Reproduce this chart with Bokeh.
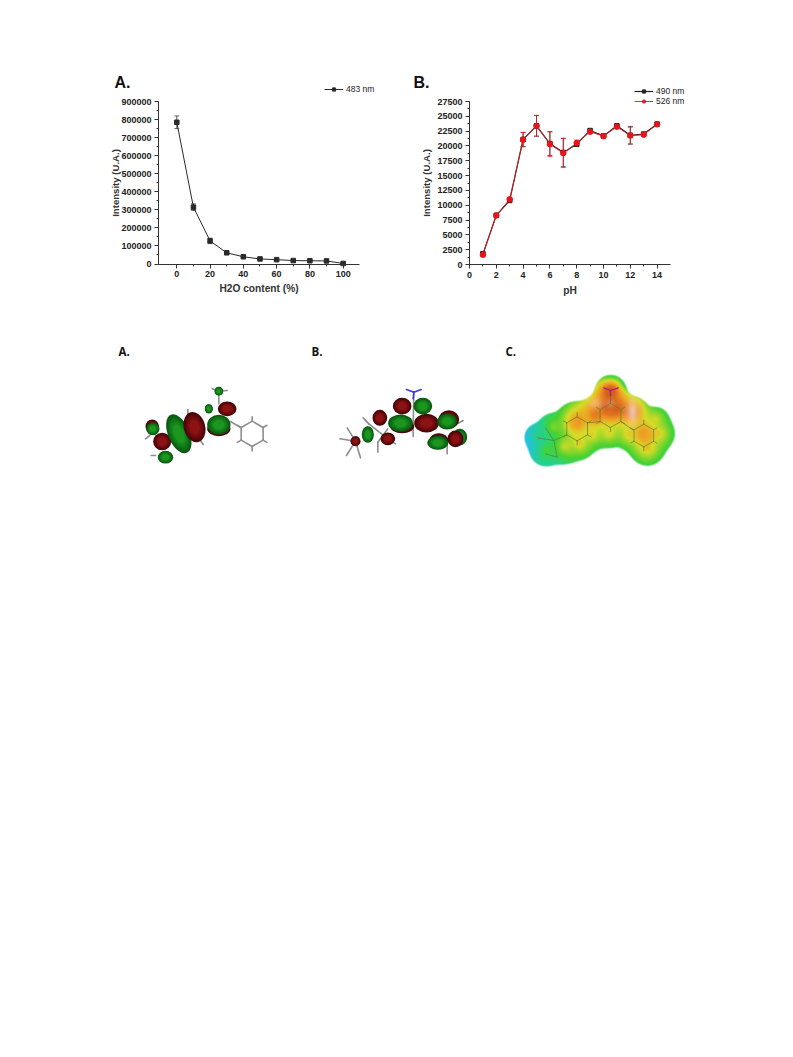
import numpy as np
from bokeh.plotting import figure
from bokeh.layouts import column, row
from bokeh.models import Range1d, Spacer, Legend, LegendItem, Label, Whisker, TeeHead, ColumnDataSource, FixedTicker
from bokeh.embed import file_html
from bokeh.resources import INLINE

# ---------- chart data ----------
water = [0, 10, 20, 30, 40, 50, 60, 70, 80, 90, 100]
water_i = [785000, 315000, 128000, 62000, 40000, 28000, 24000, 19000, 18000, 17000, 3000]
water_e = [35000, 18000, 15000, 6000, 4000, 3000, 3000, 2000, 2000, 2000, 1000]
ph = [1, 2, 3, 4, 5, 6, 7, 8, 9, 10, 11, 12, 13, 14]
i490 = [1800, 8300, 10800, 21100, 23400, 20400, 18900, 20300, 22600, 21700, 23400, 21800, 22000, 23700]
e490 = [250, 150, 200, 1200, 1750, 2000, 2400, 400, 200, 200, 200, 1500, 200, 150]
i526 = [1650, 8260, 11000, 21050, 23400, 20300, 18800, 20500, 22400, 21650, 23250, 21750, 21900, 23650]
e526 = [250, 150, 300, 1200, 1750, 2100, 2450, 500, 250, 200, 250, 1400, 250, 200]
ticks_a_y = [0, 100000, 200000, 300000, 400000, 500000, 600000, 700000, 800000, 900000]
ticks_a_x = [0, 20, 40, 60, 80, 100]
ticks_b_y = [0, 2500, 5000, 7500, 10000, 12500, 15000, 17500, 20000, 22500, 25000, 27500]
ticks_b_x = [0, 2, 4, 6, 8, 10, 12, 14]

FONT = "Liberation Sans"
INK = "#222222"


class Panel:
    """A figure whose frame fills its whole box; axes sit inside at fixed data positions."""

    def __init__(self, box, frame, xlim, ylim):
        self.box, self.frame, self.xlim, self.ylim = box, frame, xlim, ylim
        L, T, R, B = box
        l, t, r, b = frame
        self.sx = (xlim[1] - xlim[0]) / (r - l)
        self.sy = (ylim[1] - ylim[0]) / (b - t)
        self.p = figure(width=R - L, height=B - T, toolbar_location=None, output_backend="svg", min_border=0,
                        x_range=Range1d(self.X(L), self.X(R)), y_range=Range1d(self.Y(B), self.Y(T)))

    def X(self, px):
        return self.xlim[0] + (px - self.frame[0]) * self.sx

    def Y(self, py):
        return self.ylim[0] + (self.frame[3] - py) * self.sy


def style(P, xlabel, ylabel, xt, yt, xstand, ystand):
    p = P.p
    p.grid.visible = False
    p.outline_line_color = None
    p.background_fill_color = None
    p.border_fill_color = None
    xa, ya = p.xaxis[0], p.yaxis[0]
    for ax in (xa, ya):
        ax.axis_line_color = "#333333"
        ax.major_tick_line_color = "#333333"
        ax.minor_tick_line_color = "#333333"
        ax.major_tick_out = 4
        ax.major_tick_in = 0
        ax.minor_tick_out = 2
        ax.minor_tick_in = 0
        ax.major_label_text_font = FONT
        ax.major_label_text_font_size = "9px"
        ax.major_label_text_font_style = "bold"
        ax.major_label_text_color = INK
        ax.major_label_standoff = 3
        ax.axis_label_text_font = FONT
        ax.axis_label_text_font_style = "bold"
        ax.axis_label_text_color = "#333333"
    xa.axis_label_text_font_size = "10.2px"
    ya.axis_label_text_font_size = "9.6px"
    xa.axis_label, ya.axis_label = xlabel, ylabel
    xa.axis_label_standoff, ya.axis_label_standoff = xstand, ystand
    xa.fixed_location, ya.fixed_location = P.ylim[0], P.xlim[0]
    xa.bounds, ya.bounds = P.xlim, P.ylim
    xa.ticker = FixedTicker(ticks=xt, minor_ticks=[(a + b) / 2 for a, b in zip(xt, xt[1:])])
    ya.ticker = FixedTicker(ticks=yt, minor_ticks=[(a + b) / 2 for a, b in zip(yt, yt[1:])])
    ya.formatter.use_scientific = False


def series(p, x, y, e, color, marker, size, lw=1.0):
    src = ColumnDataSource(dict(x=x, y=y, lo=[a - c for a, c in zip(y, e)], hi=[a + c for a, c in zip(y, e)]))
    p.add_layout(Whisker(source=src, base="x", lower="lo", upper="hi", line_color=color, line_width=0.8,
                         upper_head=TeeHead(size=5, line_color=color, line_width=0.7),
                         lower_head=TeeHead(size=5, line_color=color, line_width=0.7)))
    l = p.line("x", "y", source=src, line_color=color, line_width=lw)
    m = p.scatter("x", "y", source=src, marker=marker, size=size, fill_color=color, line_color=color)
    return l, m


def legend(items, x, y, spacing):
    return Legend(items=items, location=(x, y), background_fill_alpha=0, border_line_color=None, glyph_width=19,
                  glyph_height=8, label_standoff=3, padding=0, margin=0, spacing=spacing, label_height=8,
                  label_text_font=FONT, label_text_font_size="8.5px", label_text_color=INK)


# ---------- panel A chart ----------
A = Panel((96, 70, 390, 305), (158, 101, 359.3, 263.5), (-11, 110), (0, 900000))
pa = A.p
style(A, "H2O content (%)", "Intensity (U.A.)", ticks_a_x, ticks_a_y, 2, -3)
la, ma = series(pa, water, water_i, water_e, "#2a2a2a", "square", 4.5)
pa.add_layout(legend([LegendItem(label="483 nm", renderers=[la, ma])], 228, 211, 0))
pa.add_layout(Label(x=A.X(114), y=A.Y(90.5), text="A.", text_font=FONT, text_font_size="16px",
                    text_font_style="bold", text_color="#111111"))

# ---------- panel B chart ----------
B = Panel((400, 70, 700, 305), (469, 101, 670, 264), (0, 15), (0, 27500))
pb = B.p
style(B, "pH", "Intensity (U.A.)", ticks_b_x, ticks_b_y, 4, 2)
l1, m1 = series(pb, ph, i490, e490, "#222222", "square", 4.5, 1.2)
l2, m2 = series(pb, ph, i526, e526, "#e8141c", "circle", 5.5, 0.9)
pb.add_layout(legend([LegendItem(label="490 nm", renderers=[l1, m1]), LegendItem(label="526 nm", renderers=[l2, m2])], 234, 199, 0))
pb.add_layout(Label(x=B.X(413), y=B.Y(90), text="B.", text_font=FONT, text_font_size="16px",
                    text_font_style="bold", text_color="#111111"))

# ---------- molecule illustrations (page px, y negated) ----------
pm = figure(width=785, height=150, x_range=Range1d(0, 785), y_range=Range1d(-485, -335),
            toolbar_location=None, output_backend="svg", min_border=0)
pm.axis.visible = False
pm.grid.visible = False
pm.outline_line_color = None
pm.border_fill_color = None
pm.background_fill_color = None

G_EDGE, G_MID = np.array([8, 88, 18]), np.array([28, 150, 30])
R_EDGE, R_MID = np.array([70, 6, 8]), np.array([140, 18, 20])


def hexcol(c):
    return "#%02x%02x%02x" % tuple(int(v) for v in c)


def lobes(items, ox, oy):
    for cx, cy, rx, ry, ang, kind in items:
        x, y = ox + cx / 3, -(oy + cy / 3)
        e, m = (G_EDGE, G_MID) if kind == "g" else (R_EDGE, R_MID)
        for f in (1.0, 0.92, 0.84, 0.74, 0.62, 0.48):
            t = (1.0 - f) / 0.52
            pm.ellipse(x, y, width=2 * rx / 3 * f, height=2 * ry / 3 * f, angle=ang,
                       fill_color=hexcol(e + (m - e) * t), line_color=None)


def sticks(items, ox, oy, color="#8e8e8e", w=1.6):
    xs = [[ox + a / 3, ox + c / 3] for a, b, c, d in items]
    ys = [[-(oy + b / 3), -(oy + d / 3)] for a, b, c, d in items]
    pm.multi_line(xs, ys, line_color=color, line_width=w, line_cap="round")


def ring(cx, cy, r):
    pts = [(cx + r * np.sin(np.pi / 3 * i), cy - r * np.cos(np.pi / 3 * i)) for i in range(7)]
    seg = [(pts[i][0], pts[i][1], pts[i + 1][0], pts[i + 1][1]) for i in range(6)]
    h = [(pts[i][0], pts[i][1], cx + 1.35 * r * np.sin(np.pi / 3 * i), cy - 1.35 * r * np.cos(np.pi / 3 * i)) for i in range(6)]
    return seg + h


# panel A orbital (crop origin 110,340)
a_sticks = ring(425, 280, 38) + [(360, 243, 392, 262), (325, 190, 325, 152), (325, 152, 305, 145), (325, 152, 350, 150),
                                 (232, 222, 232, 207), (270, 300, 278, 312), (135, 345, 122, 345), (118, 285, 105, 295)]
a_lobes = [(125, 258, 20, 21, 0, "r"), (127, 265, 20, 19, 0, "g"), (155, 303, 27, 26, 0, "r"), (165, 350, 23, 19, 0, "g"),
           (205, 280, 32, 62, 0.4, "g"), (252, 260, 32, 46, 0.25, "r"), (325, 265, 35, 22, 0, "r"), (325, 253, 35, 30, 0, "g"),
           (350, 205, 28, 22, 0, "r"), (295, 205, 12, 14, 0, "g"), (325, 152, 13, 13, 0, "g")]
sticks(a_sticks, 110, 340)
lobes(a_lobes, 110, 340)

# panel B orbital (crop origin 300,340)
b_sticks = [(340, 155, 338, 260), (165, 302, 118, 295), (165, 302, 140, 262),
            (165, 302, 138, 345), (165, 302, 180, 352), (188, 232, 205, 250), (232, 305, 232, 335), (285, 310, 262, 295),
            (338, 260, 338, 288), (440, 315, 440, 340), (470, 250, 488, 240), (205, 250, 262, 295), (262, 265, 232, 305)]
b_lobes = [(165, 302, 15, 15, 0, "r"), (202, 282, 18, 25, 0, "g"), (238, 232, 22, 24, 0, "r"), (262, 295, 22, 19, 0, "r"),
           (305, 258, 36, 20, 0, "r"), (300, 248, 37, 26, 0, "g"), (305, 197, 28, 25, 0, "r"), (367, 197, 28, 25, 0, "g"),
           (378, 248, 37, 28, 0, "r"), (445, 237, 31, 28, 0, "r"), (440, 243, 30, 24, 0, "g"), (415, 300, 28, 22, 0, "r"),
           (412, 307, 32, 21, 0, "g"), (478, 290, 22, 25, 0, "g"), (465, 295, 24, 25, 0, "r")]
sticks(b_sticks, 300, 340)
lobes(b_lobes, 300, 340)
sticks([(340, 155, 318, 147), (340, 155, 362, 147), (340, 155, 338, 175)], 300, 340, "#3a3ae0", 1.6)

# panel C electrostatic surface (crop origin 495,340) rasterised
SURFACE_ATOMS = [(125, 290, 42), (150, 330, 52), (170, 262, 46), (205, 320, 55), (240, 245, 65), (250, 310, 52), (300, 230, 60),
                 (345, 150, 50), (345, 210, 70), (410, 220, 55), (450, 285, 68), (490, 280, 50), (482, 238, 40),
                 (455, 325, 55), (340, 280, 46), (290, 285, 45), (400, 285, 45)]
HOT = [(300, 190, 45, 0.32), (400, 205, 40, 0.36), (345, 140, 28, 0.32), (240, 265, 32, 0.12), (445, 285, 30, 0.12)]
COLD = [(100, 300, 55, 0.40), (345, 95, 28, 0.22), (398, 125, 16, 0.28), (170, 375, 35, 0.12)]
STOPS = np.array([0.0, 0.20, 0.38, 0.62, 0.80, 1.0])
RGB = np.array([[35, 195, 215], [40, 210, 130], [70, 210, 50], [215, 220, 40], [240, 160, 35], [215, 95, 30]], float)

W, H = 190, 140
gy, gx = np.mgrid[0:H * 2, 0:W * 2]
cx, cy = (gx + 0.5) * 1.5, (gy + 0.5) * 1.5
soft = 10.0
acc = np.zeros(cx.shape)
for ax_, ay_, r_ in SURFACE_ATOMS:
    acc += np.exp((r_ - np.hypot(cx - ax_, cy - ay_)) / soft)
depth = soft * np.log(acc) - 4
val = 0.33 + 0.32 * np.clip(depth / 48, 0, 1)
for ax_, ay_, s_, a_ in HOT:
    val = val + a_ * np.exp(-((cx - ax_) ** 2 + (cy - ay_) ** 2) / (2 * s_ ** 2))
for ax_, ay_, s_, a_ in COLD:
    val = val - a_ * np.exp(-((cx - ax_) ** 2 + (cy - ay_) ** 2) / (2 * s_ ** 2))
val = np.clip(val, 0, 1)
rgb = np.stack([np.interp(val, STOPS, RGB[:, i]) for i in range(3)], -1)
for ax_, ay_, sx_, sy_, a_ in [(410, 215, 12, 25, 0.6), (300, 190, 14, 12, 0.3), (345, 190, 10, 8, 0.25)]:
    g = a_ * np.exp(-((cx - ax_) ** 2 / (2 * sx_ ** 2) + (cy - ay_) ** 2 / (2 * sy_ ** 2)))
    rgb = rgb * (1 - g[..., None]) + 255 * g[..., None]
alpha = np.clip((depth + 2) / 4, 0, 1)
img = np.zeros(cx.shape, dtype=np.uint32)
view = img.view(np.uint8).reshape(cx.shape + (4,))
view[..., 0] = rgb[..., 0]
view[..., 1] = rgb[..., 1]
view[..., 2] = rgb[..., 2]
view[..., 3] = (alpha * 255).astype(np.uint8)
pm.image_rgba(image=[img[::-1]], x=495, y=-(340 + H), dw=W, dh=H)

c_sticks = ring(245, 265, 36) + ring(445, 285, 34) + ring(345, 225, 36) + [
    (276, 247, 314, 243), (376, 243, 412, 268), (345, 189, 345, 150),
    (214, 283, 175, 300), (175, 300, 125, 292), (175, 300, 185, 350), (175, 300, 150, 262), (185, 350, 150, 340)]
sticks(c_sticks, 495, 340, "#5f7a30", 0.7)
sticks([(345, 150, 325, 142), (345, 150, 368, 142), (345, 150, 345, 165)], 495, 340, "#a02080", 1.3)

for tx, name in ((118, "A."), (311, "B."), (505, "C.")):
    pm.add_layout(Label(x=tx, y=-358, text=name, text_font="Open Sans", text_font_size="11.5px",
                        text_font_style="bold", text_color="#111111"))

page = column(
    Spacer(height=70, width=785),
    row(Spacer(width=96, height=235), pa, Spacer(width=10, height=235), pb),
    Spacer(height=30, width=785),
    pm,
)
open("out.html", "w").write(file_html(page, INLINE))
